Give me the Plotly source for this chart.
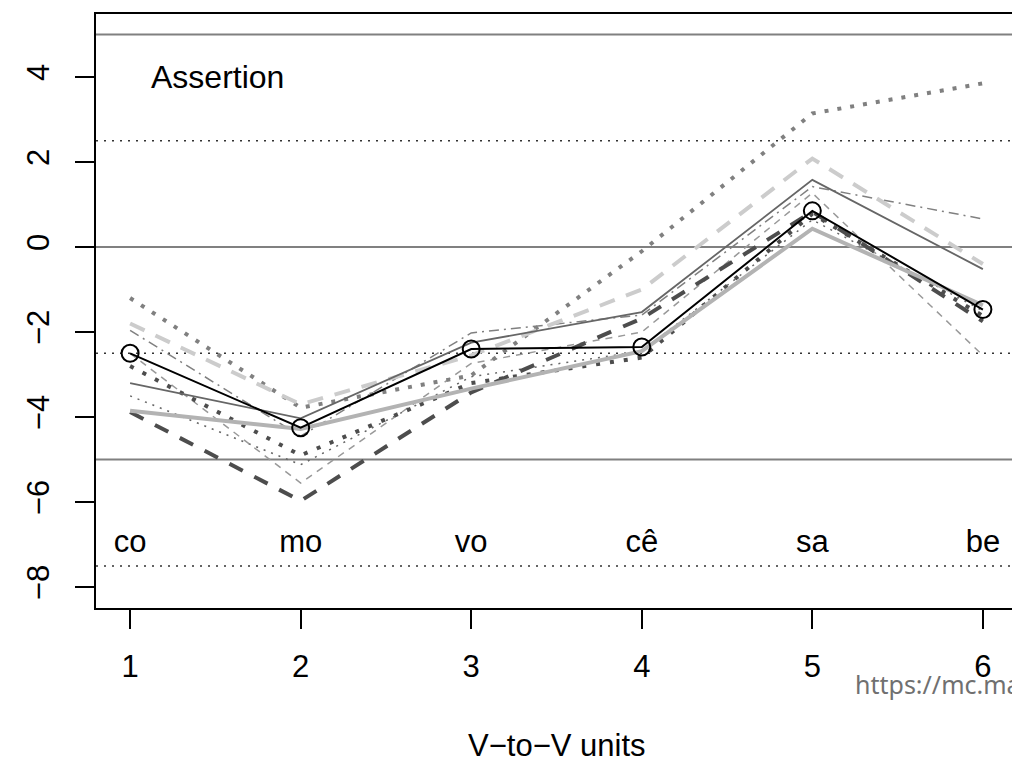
import plotly.graph_objects as go

# V-to-V units on the x axis
units = [1, 2, 3, 4, 5, 6]
syllables = ['co', 'mo', 'vo', 'cê', 'sa', 'be']

# one list per speaker/curve
mean_curve = [-2.5, -4.25, -2.4, -2.35, 0.85, -1.47]
s_gray_solid = [-3.2, -4.03, -2.25, -1.53, 1.58, -0.52]
s_light_thick = [-3.85, -4.28, -3.33, -2.45, 0.43, -1.37]
s_dark_dash = [-3.88, -5.97, -3.42, -1.68, 0.83, -1.75]
s_light_dash = [-1.8, -3.7, -2.55, -1.0, 2.08, -0.4]
s_big_dots = [-1.2, -3.78, -3.02, -0.1, 3.14, 3.85]
s_dark_dots = [-2.8, -4.9, -3.2, -2.6, 0.78, -1.62]
s_dashdot = [-1.96, -4.45, -2.02, -1.6, 1.42, 0.66]
s_thin_dash = [-2.5, -5.55, -2.74, -2.0, 1.27, -2.55]
s_small_dots = [-3.5, -5.12, -3.05, -2.45, 0.64, -1.5]

solid_levels = [5, 0, -5]
dotted_levels = [2.5, -2.5, -7.5]

y_ticks = [-8, -6, -4, -2, 0, 2, 4]
x_ticks = [1, 2, 3, 4, 5, 6]

fig = go.Figure()

# grey curves first, the black mean on top
curves = [
    (s_small_dots, '#666666', 1.5, '2px,6px'),
    (s_thin_dash, '#999999', 1.5, '7px,6px'),
    (s_dashdot, '#808080', 1.5, '10px,5px,2px,5px'),
    (s_big_dots, '#808080', 4, '4px,9px'),
    (s_dark_dots, '#4d4d4d', 4, '4px,10px'),
    (s_light_dash, '#cccccc', 4, '16px,12px'),
    (s_dark_dash, '#4d4d4d', 4, '15px,13px'),
    (s_light_thick, '#b3b3b3', 4, 'solid'),
    (s_gray_solid, '#666666', 1.8, 'solid'),
]
for vals, col, w, dash in curves:
    fig.add_trace(go.Scatter(
        x=units, y=vals, mode='lines',
        line=dict(color=col, width=w, dash=dash),
        hoverinfo='skip',
    ))

fig.add_trace(go.Scatter(
    x=units, y=mean_curve, mode='lines+markers',
    line=dict(color='black', width=2),
    marker=dict(symbol='circle-open', size=17, color='black', line=dict(width=2)),
))

# syllable labels
fig.add_trace(go.Scatter(
    x=units, y=[-7] * len(units), mode='text', text=syllables,
    textfont=dict(size=31, color='black', family='Liberation Sans'),
    textposition='middle center',
))

for lv in solid_levels:
    fig.add_hline(y=lv, line=dict(color='#808080', width=2), layer='below')
for lv in dotted_levels:
    fig.add_hline(y=lv, line=dict(color='#333333', width=1.5, dash='2px,6px'), layer='below')

fig.add_annotation(x=1.11, y=4, text='Assertion', showarrow=False,
                   xanchor='left', yanchor='middle',
                   font=dict(size=32, color='black', family='Liberation Sans'))

fig.add_annotation(xref='paper', yref='paper', x=0.5, y=-0.231,
                   xanchor='center', yanchor='middle',
                   text='V−to−V units', showarrow=False,
                   font=dict(size=31, color='black', family='Liberation Sans'))

fig.add_annotation(xref='paper', yref='paper', x=0.822, y=-0.128,
                   xanchor='left', yanchor='middle',
                   text='https://mc.manuscriptcentral.com', showarrow=False,
                   font=dict(size=25, color='#707070', family='Noto Sans'))

fig.update_xaxes(
    range=[0.8, 6.2], tickvals=x_ticks, ticktext=[str(t) for t in x_ticks],
    showgrid=False, zeroline=False, automargin=False,
    showline=True, mirror=True, linecolor='black', linewidth=2,
    ticks='outside', ticklen=19, tickwidth=2, tickcolor='black',
    ticklabelstandoff=11,
    tickfont=dict(size=31, color='black', family='Liberation Sans'),
)
fig.update_yaxes(
    range=[-8.49, 5.48], tickvals=y_ticks,
    ticktext=[str(t).replace('-', '−') for t in y_ticks],
    tickangle=-90,
    showgrid=False, zeroline=False, automargin=False,
    showline=True, mirror=True, linecolor='black', linewidth=2,
    ticks='outside', ticklen=19, tickwidth=2, tickcolor='black',
    ticklabelstandoff=14,
    tickfont=dict(size=31, color='black', family='Liberation Sans'),
)

# the page body adds 8px around the figure, so the figure is 8px smaller
fig.update_layout(
    width=1012, height=760,
    margin=dict(l=88, r=3, t=6, b=160),
    plot_bgcolor='white', paper_bgcolor='white',
    showlegend=False,
)

fig.write_html("out.html")
